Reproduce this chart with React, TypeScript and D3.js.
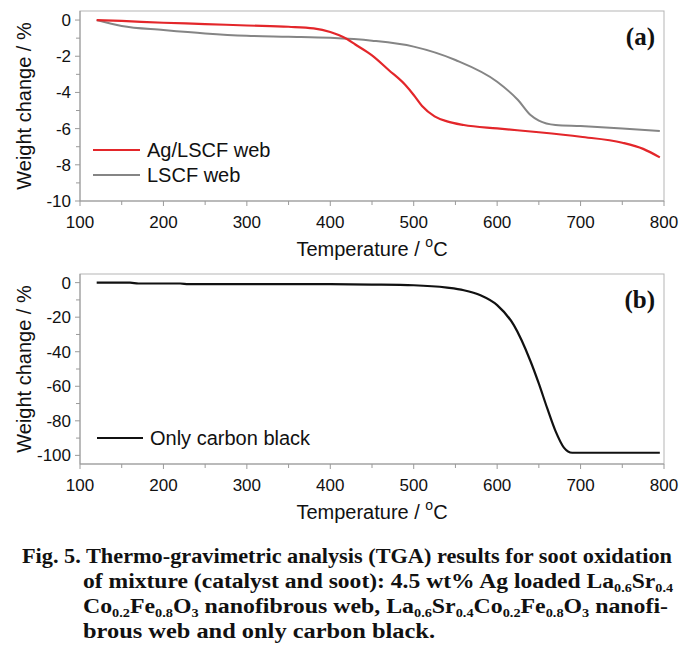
import React from "react";
import * as d3 from "d3";

// ---- Data ----
const agTemp = [120, 150, 200, 250, 300, 350, 380, 400, 410, 420, 430, 450, 470, 490, 500, 510, 525, 540, 560, 600, 650, 700, 750, 775, 795];
const agWeight = [0, -0.05, -0.15, -0.22, -0.3, -0.37, -0.46, -0.66, -0.83, -1.05, -1.35, -1.95, -2.76, -3.59, -4.14, -4.75, -5.32, -5.6, -5.8, -5.99, -6.2, -6.45, -6.78, -7.12, -7.59];

const lscfTemp = [120, 150, 200, 250, 300, 350, 400, 450, 500, 550, 600, 625, 640, 650, 670, 700, 750, 795];
const lscfWeight = [0, -0.33, -0.55, -0.74, -0.87, -0.92, -0.98, -1.14, -1.47, -2.21, -3.41, -4.42, -5.25, -5.56, -5.8, -5.86, -5.99, -6.13];

const cbTemp = [120, 160, 170, 220, 230, 300, 400, 450, 500, 540, 560, 580, 600, 620, 640, 650, 660, 670, 680, 690, 795];
const cbWeight = [0, 0, -0.5, -0.5, -0.9, -0.9, -0.9, -1.1, -1.5, -2.9, -4.4, -7.3, -13, -24.6, -45.5, -58.5, -72.7, -86, -95.5, -98.5, -98.5];

const xMajorTicks = [100, 200, 300, 400, 500, 600, 700, 800];
const xMinorTicks = [150, 250, 350, 450, 550, 650, 750];
const aMajorTicks = [0, -2, -4, -6, -8, -10];
const aMinorTicks = [-1, -3, -5, -7, -9];
const bMajorTicks = [0, -20, -40, -60, -80, -100];
const bMinorTicks = [-10, -30, -50, -70, -90];

const legendA = ["Ag/LSCF web", "LSCF web"];
const legendB = ["Only carbon black"];

const SANS = "'Liberation Sans', Arial, sans-serif";
const SERIF = "'Liberation Serif', 'Times New Roman', serif";
const AXIS = "#9a9a9a";

type Series = { t: number[]; w: number[]; color: string; width: number };

function Panel(props: {
  top: number;
  bottom: number;
  yDomain: [number, number];
  yMajor: number[];
  yMinor: number[];
  series: Series[];
  legend: { label: string; color: string; width: number; y: number }[];
  legendX: [number, number];
  tag: string;
  tagY: number;
}) {
  const left = 80;
  const right = 664;
  const { top, bottom } = props;
  const x = d3.scaleLinear().domain([100, 800]).range([left, right]);
  const y = d3.scaleLinear().domain(props.yDomain).range([bottom, top]);
  const line = d3
    .line<[number, number]>()
    .x((d) => x(d[0]))
    .y((d) => y(d[1]))
    .curve(d3.curveMonotoneX);
  const midY = (top + bottom) / 2;
  return (
    <g>
      <rect x={left} y={top} width={right - left} height={bottom - top} fill="none" stroke="#b5b5b5" strokeWidth={1} />
      <line x1={left} x2={left} y1={top} y2={bottom} stroke={AXIS} strokeWidth={1} />
      <line x1={left} x2={right} y1={bottom} y2={bottom} stroke={AXIS} strokeWidth={1} />
      {xMajorTicks.map((t) => (
        <g key={"xm" + t}>
          <line x1={x(t)} x2={x(t)} y1={bottom} y2={bottom + 5} stroke={AXIS} />
          <text x={x(t)} y={bottom + 27} textAnchor="middle" fontFamily={SANS} fontSize={17} fill="#111">
            {t}
          </text>
        </g>
      ))}
      {xMinorTicks.map((t) => (
        <line key={"xn" + t} x1={x(t)} x2={x(t)} y1={bottom} y2={bottom + 4} stroke={AXIS} />
      ))}
      {props.yMajor.map((v) => (
        <g key={"ym" + v}>
          <line x1={left - 5} x2={left} y1={y(v)} y2={y(v)} stroke={AXIS} />
          <text x={left - 9} y={y(v) + 6} textAnchor="end" fontFamily={SANS} fontSize={17} fill="#111">
            {v}
          </text>
        </g>
      ))}
      {props.yMinor.map((v) => (
        <line key={"yn" + v} x1={left - 4} x2={left} y1={y(v)} y2={y(v)} stroke={AXIS} />
      ))}
      <text x={(left + right) / 2} y={bottom + 55} textAnchor="middle" fontFamily={SANS} fontSize={20} fill="#111">
        Temperature / <tspan fontSize={14} dy={-9}>o</tspan>
        <tspan dy={9}>C</tspan>
      </text>
      <text
        transform={`translate(31,${midY}) rotate(-90)`}
        textAnchor="middle"
        fontFamily={SANS}
        fontSize={20}
        fill="#111"
      >
        Weight change / %
      </text>
      {props.series.map((s, i) => (
        <path
          key={i}
          d={line(s.t.map((t, k) => [t, s.w[k]] as [number, number])) || ""}
          fill="none"
          stroke={s.color}
          strokeWidth={s.width}
          strokeLinejoin="round"
        />
      ))}
      {props.legend.map((l, i) => (
        <g key={"lg" + i}>
          <line x1={props.legendX[0]} x2={props.legendX[1]} y1={l.y} y2={l.y} stroke={l.color} strokeWidth={l.width} />
          <text x={props.legendX[1] + 7} y={l.y + 7} fontFamily={SANS} fontSize={20} fill="#111">
            {l.label}
          </text>
        </g>
      ))}
      <text x={655} y={props.tagY} textAnchor="end" fontFamily={SERIF} fontWeight="bold" fontSize={25} fill="#111">
        {props.tag}
      </text>
    </g>
  );
}

function Sub({ children }: { children: string }) {
  return (
    <tspan fontSize={12} dy={4}>
      {children}
    </tspan>
  );
}

export default function App() {
  const red = "#e3262a";
  const grey = "#858585";
  const black = "#111111";
  const capStyle = { fontFamily: SERIF, fontWeight: 700 as const, fontSize: 20, fill: "#111" };
  return (
    <svg width={698} height={655} style={{ position: "absolute", left: 0, top: 0, background: "#fff" }}>
      <rect x={0} y={0} width={698} height={655} fill="#fff" />
      <Panel
        top={11}
        bottom={201}
        yDomain={[-10, 0.5]}
        yMajor={aMajorTicks}
        yMinor={aMinorTicks}
        series={[
          { t: lscfTemp, w: lscfWeight, color: grey, width: 2 },
          { t: agTemp, w: agWeight, color: red, width: 2.2 },
        ]}
        legend={[
          { label: legendA[0], color: red, width: 2.2, y: 150 },
          { label: legendA[1], color: grey, width: 2, y: 175 },
        ]}
        legendX={[93, 140]}
        tag="(a)"
        tagY={45}
      />
      <Panel
        top={274}
        bottom={464}
        yDomain={[-105, 5]}
        yMajor={bMajorTicks}
        yMinor={bMinorTicks}
        series={[{ t: cbTemp, w: cbWeight, color: black, width: 2.2 }]}
        legend={[{ label: legendB[0], color: black, width: 2.2, y: 438 }]}
        legendX={[97, 143]}
        tag="(b)"
        tagY={308}
      />
      <text x={22} y={563} {...capStyle} textLength={650} lengthAdjust="spacingAndGlyphs">
        Fig. 5. Thermo-gravimetric analysis (TGA) results for soot oxidation
      </text>
      <text x={83} y={588} {...capStyle} textLength={590} lengthAdjust="spacingAndGlyphs">
        of mixture (catalyst and soot): 4.5 wt% Ag loaded La<Sub>0.6</Sub>
        <tspan dy={-4}>Sr</tspan>
        <Sub>0.4</Sub>
      </text>
      <text x={83} y={613} {...capStyle} textLength={585} lengthAdjust="spacingAndGlyphs">
        Co<Sub>0.2</Sub>
        <tspan dy={-4}>Fe</tspan>
        <Sub>0.8</Sub>
        <tspan dy={-4}>O</tspan>
        <Sub>3</Sub>
        <tspan dy={-4}> nanofibrous web, La</tspan>
        <Sub>0.6</Sub>
        <tspan dy={-4}>Sr</tspan>
        <Sub>0.4</Sub>
        <tspan dy={-4}>Co</tspan>
        <Sub>0.2</Sub>
        <tspan dy={-4}>Fe</tspan>
        <Sub>0.8</Sub>
        <tspan dy={-4}>O</tspan>
        <Sub>3</Sub>
        <tspan dy={-4}> nanofi-</tspan>
      </text>
      <text x={83} y={638} {...capStyle} textLength={352} lengthAdjust="spacingAndGlyphs">
        brous web and only carbon black.
      </text>
    </svg>
  );
}
